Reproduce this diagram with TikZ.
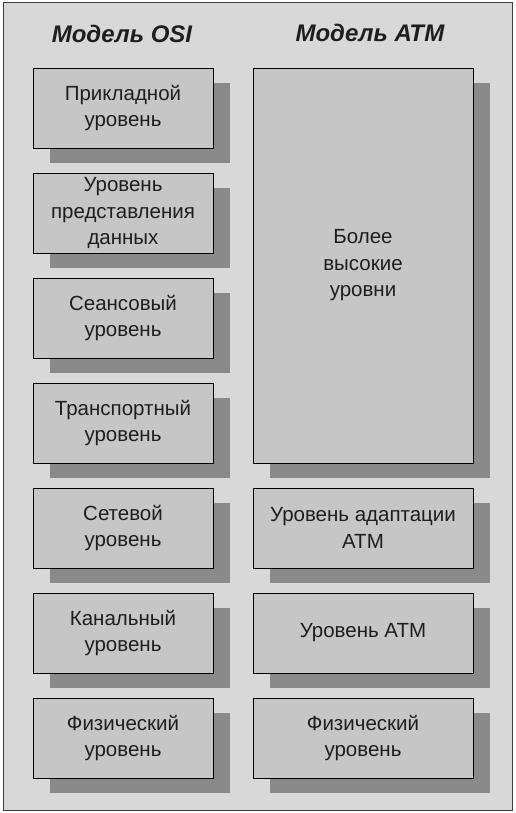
\documentclass[tikz,border=0pt]{standalone}
\usepackage{fontspec}
\setmainfont{Liberation Sans}
\usetikzlibrary{shadows}
\definecolor{bggray}{RGB}{216,216,216}
\definecolor{boxgray}{RGB}{198,198,198}
\definecolor{shadowgray}{RGB}{138,138,138}
\definecolor{framegray}{RGB}{60,60,60}
\definecolor{textgray}{RGB}{30,30,30}
\begin{document}
\begin{tikzpicture}[x=1pt,y=-1pt,
  layerbox/.style={draw=black, line width=0.8pt, fill=boxgray, align=center,
    inner sep=0pt, text=textgray, font=\fontsize{20.5}{26.5}\selectfont,
    drop shadow={shadow xshift=17pt, shadow yshift=-15pt, fill=shadowgray, opacity=1}},
  osibox/.style={layerbox, minimum width=180pt, minimum height=80pt},
  atmbox/.style={layerbox, minimum width=220pt, minimum height=80pt},
  title/.style={font=\fontsize{24}{28}\selectfont\bfseries\itshape, anchor=base, text=textgray}]
\useasboundingbox (0,0) rectangle (515,813);
\fill[white] (0,0) rectangle (515,813);
\draw[framegray, line width=1pt, fill=bggray] (3,3) rectangle (512,810);
\node[title] (t1) at (122,43) {Модель OSI};
\node[title] (t2) at (370,42) {Модель АТМ};
\node[osibox] (o7) at (123,108) {Прикладной\\уровень};
\node[osibox] (o6) at (123,213) {Уровень\\представления\\данных};
\node[osibox] (o5) at (123,318) {Сеансовый\\уровень};
\node[osibox] (o4) at (123,423) {Транспортный\\уровень};
\node[osibox] (o3) at (123,528) {Сетевой\\уровень};
\node[osibox] (o2) at (123,633) {Канальный\\уровень};
\node[osibox] (o1) at (123,738) {Физический\\уровень};
\node[atmbox, minimum height=395pt] (a4) at (363,265.5) {Более\\высокие\\уровни};
\node[atmbox] (a3) at (363,528) {Уровень адаптации\\АТМ};
\node[atmbox] (a2) at (363,633) {Уровень АТМ};
\node[atmbox] (a1) at (363,738) {Физический\\уровень};
\end{tikzpicture}
\end{document}
